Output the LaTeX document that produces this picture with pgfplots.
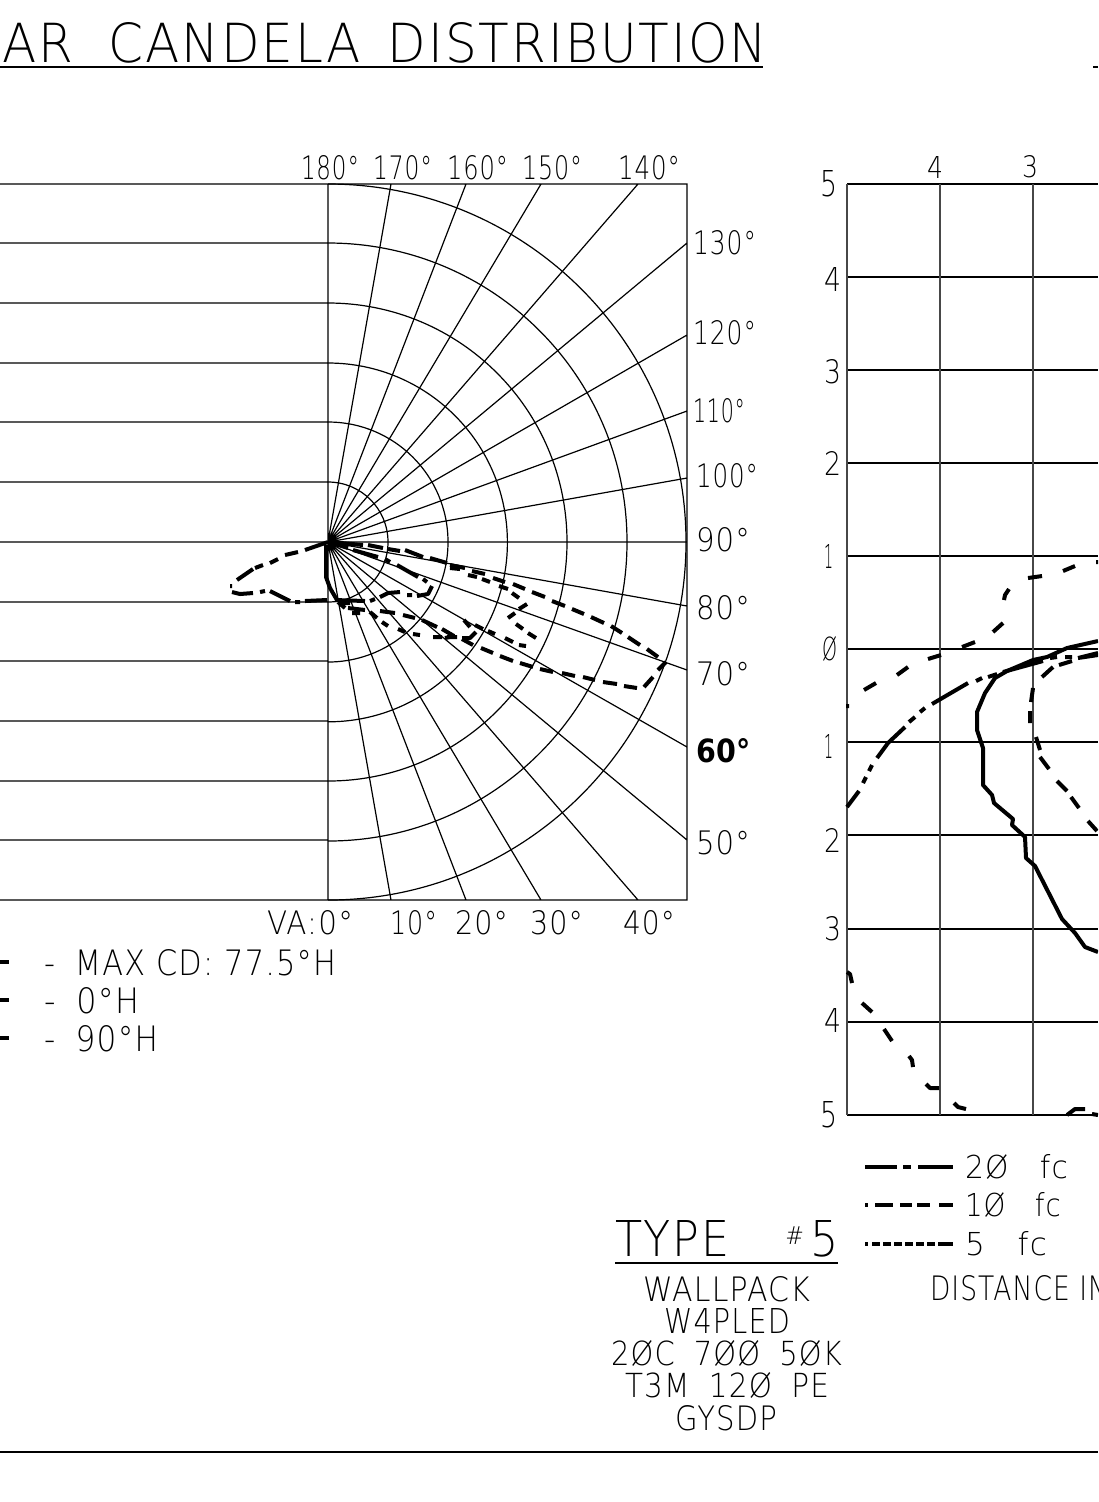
\documentclass[border=0pt]{standalone}
\usepackage{graphicx}
\usepackage{fontspec}
\setmainfont{DejaVu Sans ExtraLight}[LetterSpace=4]
\newfontfamily\boldcad{DejaVu Sans}[BoldFont={DejaVu Sans Bold}]
\usepackage{pgfplots}
\pgfplotsset{compat=1.18}
% text helper: left x, centre y, width, height (reference pixels)
\newcommand{\T}[5]{\node[anchor=west,inner sep=0pt,outer sep=0pt] at (axis cs:#1,#2) {\resizebox{\dimexpr #3pt/2\relax}{\dimexpr #4pt/2\relax}{#5}};}
\pgfplotsset{
  grid line/.style={black,line width=0.6pt,forget plot},
  vgrid line/.style={black!72,line width=0.85pt,forget plot},
  curve/.style={black,line width=2pt,line cap=butt,line join=round,forget plot},
}
\begin{document}
\begin{tikzpicture}
\useasboundingbox (0,0) rectangle (549pt,-751pt);
\clip (0,0) rectangle (549pt,-751pt);
\begin{axis}[at={(0,0)},anchor=north west,x=0.5pt,y=0.5pt,y dir=reverse,
  xmin=0,xmax=1098,ymin=0,ymax=1502,hide axis,clip=false,unbounded coords=jump]

% ---------- frame rules
\addplot[grid line] coordinates {(0,67)(763,67) (nan,nan) (1093,67)(1098,67) (nan,nan) (0,1452)(1098,1452) (nan,nan) (615,1263)(838,1263)};

% ---------- polar grid: horizontals, box and rays
\addplot[grid line] coordinates {
(0,184)(687,184)(687,900)(0,900) (nan,nan)
(0,243)(328,243) (nan,nan) (0,303)(328,303) (nan,nan) (0,363)(328,363) (nan,nan)
(0,422)(328,422) (nan,nan) (0,482)(328,482) (nan,nan) (0,542)(687,542) (nan,nan)
(0,602)(328,602) (nan,nan) (0,661)(328,661) (nan,nan) (0,721)(328,721) (nan,nan)
(0,781)(328,781) (nan,nan) (0,840)(328,840) (nan,nan) (328,184)(328,900) (nan,nan)
(328,542)(391,184) (nan,nan) (328,542)(466,184) (nan,nan) (328,542)(541,184) (nan,nan) (328,542)(638,184) (nan,nan)
(328,542)(687,243) (nan,nan) (328,542)(687,335) (nan,nan) (328,542)(687,411) (nan,nan) (328,542)(687,478) (nan,nan)
(328,542)(687,606) (nan,nan) (328,542)(687,670) (nan,nan) (328,542)(687,747) (nan,nan) (328,542)(687,840) (nan,nan)
(328,542)(391,900) (nan,nan) (328,542)(466,900) (nan,nan) (328,542)(541,900) (nan,nan) (328,542)(638,900)};
\draw[black,line width=0.6pt] (axis cs:328,482) arc[start angle=90,end angle=-90,radius=30pt];
\draw[black,line width=0.6pt] (axis cs:328,422) arc[start angle=90,end angle=-90,radius=60pt];
\draw[black,line width=0.6pt] (axis cs:328,363) arc[start angle=90,end angle=-90,radius=89.7pt];
\draw[black,line width=0.6pt] (axis cs:328,303) arc[start angle=90,end angle=-90,radius=119.5pt];
\draw[black,line width=0.6pt] (axis cs:328,243) arc[start angle=90,end angle=-90,radius=149.5pt];
\draw[black,line width=0.6pt] (axis cs:328,184) arc[start angle=90,end angle=-90,radius=179pt];

% ---------- polar curves: MAX CD
\addplot[curve] coordinates {
(305,550)(328,542) (nan,nan) (285,555)(298,552) (nan,nan) (270,563)(278,559) (nan,nan) (255,568)(263,565) (nan,nan)
(237,580)(253,569) (nan,nan) (230,586)(232,586) (nan,nan) (232,592)(240,594)(253,593) (nan,nan) (260,592)(265,591) (nan,nan)
(270,591)(280,596)(290,601) (nan,nan) (295,602)(300,602) (nan,nan) (305,601)(327,600) (nan,nan)
(326,545)(326,577)(330,588)(337,600) (nan,nan) (335,600)(365,601) (nan,nan) (370,601)(375,599) (nan,nan)
(380,597)(388,593)(400,592) (nan,nan) (407,595)(412,595) (nan,nan) (417,596)(428,594)(432,586) (nan,nan)
(427,582)(423,579) (nan,nan) (418,577)(397,565) (nan,nan) (390,562)(385,559) (nan,nan) (378,557)(353,550) (nan,nan) (348,548)(332,543)};
% ---------- polar curves: 0 H
\addplot[curve] coordinates {
(330,542)(363,545) (nan,nan) (368,545)(383,548) (nan,nan) (388,549)(400,551) (nan,nan) (405,550)(423,557) (nan,nan) (430,558)(447,563) (nan,nan)
(450,565)(465,568) (nan,nan) (472,571)(485,574) (nan,nan) (493,578)(505,582) (nan,nan) (513,584)(525,589) (nan,nan)
(532,592)(545,597) (nan,nan) (552,601)(565,606) (nan,nan) (572,609)(584,614) (nan,nan) (591,617)(604,623) (nan,nan)
(611,626)(622,633) (nan,nan) (628,637)(640,645) (nan,nan) (647,649)(658,657) (nan,nan) (666,662)(658,670) (nan,nan)
(653,677)(644,687) (nan,nan) (637,688)(624,686) (nan,nan) (617,684)(603,682) (nan,nan) (595,680)(583,677) (nan,nan)
(575,676)(562,673) (nan,nan) (553,672)(540,669) (nan,nan) (533,667)(520,663) (nan,nan) (513,661)(500,656) (nan,nan)
(493,653)(481,648) (nan,nan) (473,645)(462,639) (nan,nan) (454,636)(442,629) (nan,nan) (445,638)(454,636) (nan,nan)
(422,620)(437,627) (nan,nan) (403,615)(415,618) (nan,nan) (380,611)(395,613) (nan,nan) (348,608)(365,610) (nan,nan)
(338,602)(345,608) (nan,nan) (340,603)(350,603)};
% ---------- polar curves: 90 H
\addplot[curve] coordinates {
(450,568)(460,569) (nan,nan) (468,575)(477,577) (nan,nan) (482,579)(490,582) (nan,nan) (499,586)(508,589) (nan,nan)
(512,593)(519,598) (nan,nan) (527,604)(519,609) (nan,nan) (515,613)(508,618) (nan,nan) (516,624)(523,629) (nan,nan)
(528,633)(536,638) (nan,nan) (526,646)(519,645) (nan,nan) (513,642)(505,638) (nan,nan) (495,634)(488,631) (nan,nan)
(483,629)(475,625) (nan,nan) (470,627)(464,620) (nan,nan) (476,632)(470,638)(462,638) (nan,nan)
(352,613)(360,613) (nan,nan) (370,612)(377,618) (nan,nan) (382,622)(388,626) (nan,nan) (398,629)(405,632) (nan,nan)
(413,634)(420,635) (nan,nan) (433,637)(442,637) (nan,nan) (447,637)(457,637)};
% polar legend stubs
\addplot[curve,line width=2.4pt] coordinates {(0,962)(9,962) (nan,nan) (0,1000)(9,1000) (nan,nan) (0,1038)(9,1038)};

% ---------- distance grid
\addplot[grid line,line width=0.7pt] coordinates {
(847,184)(1098,184) (nan,nan) (847,277)(1098,277) (nan,nan) (847,370)(1098,370) (nan,nan) (847,463)(1098,463) (nan,nan)
(847,556)(1098,556) (nan,nan) (847,649)(1098,649) (nan,nan) (847,742)(1098,742) (nan,nan) (847,835)(1098,835) (nan,nan)
(847,929)(1098,929) (nan,nan) (847,1022)(1098,1022) (nan,nan) (847,1115)(1098,1115)};
\addplot[vgrid line] coordinates {(847,184)(847,1115) (nan,nan) (940,184)(940,1115) (nan,nan) (1033,184)(1033,1115)};

% ---------- 20 fc
\addplot[curve] coordinates {
(1098,641)(1067,648)(1047,657)(1033,660)(1007,671)(995,678)(985,693)(977,712)(977,730)(983,748)(983,785)(992,795)(994,803)
(1013,819)(1012,825)(1025,837)(1026,858)(1035,866)(1062,919)(1075,933)(1085,947)(1098,952)};
% ---------- 10 fc
\addplot[curve] coordinates {
(847,807)(859,791) (nan,nan) (863,783)(866,777) (nan,nan) (869,771)(872,765) (nan,nan) (877,758)(888,743)(905,727) (nan,nan)
(909,722)(915,717) (nan,nan) (920,712)(925,708) (nan,nan) (932,704)(968,683) (nan,nan) (976,681)(982,678) (nan,nan)
(988,677)(997,674) (nan,nan) (1003,672)(1043,661) (nan,nan) (1050,658)(1057,657) (nan,nan) (1065,657)(1072,657) (nan,nan)
(1078,658)(1098,655) (nan,nan) (1078,658)(1098,653)};
% ---------- 5 fc, inner branch
\addplot[curve] coordinates {
(1059,665)(1072,661) (nan,nan) (1042,677)(1053,667) (nan,nan) (1033,688)(1031,702) (nan,nan) (1030,711)(1030,723) (nan,nan)
(1036,737)(1040,750) (nan,nan) (1040,757)(1049,769) (nan,nan) (1057,781)(1067,791) (nan,nan) (1071,797)(1079,808) (nan,nan)
(1088,821)(1097,831)};
% ---------- 5 fc, outer branch
\addplot[curve] coordinates {
(1096,562)(1098,562) (nan,nan) (1063,571)(1075,566) (nan,nan) (1028,578)(1042,576) (nan,nan) (1004,600)(1005,595)(1009,589) (nan,nan)
(993,632)(1003,623) (nan,nan) (962,647)(975,642) (nan,nan) (928,659)(941,655) (nan,nan) (897,675)(908,667) (nan,nan)
(864,690)(876,683) (nan,nan) (846,706)(849,706) (nan,nan)
(847,972)(850,974)(852,983) (nan,nan) (862,1003)(872,1012) (nan,nan) (884,1029)(892,1041) (nan,nan) (909,1056)(912,1060)(913,1067) (nan,nan)
(926,1084)(930,1088)(939,1088) (nan,nan) (954,1103)(958,1107)(966,1109) (nan,nan) (1067,1115)(1075,1109)(1085,1109) (nan,nan) (1092,1114)(1098,1115)};

% ---------- distance legend keys
\addplot[curve,line width=2.2pt] coordinates {(865,1167)(897,1167) (nan,nan) (903,1167)(911,1167) (nan,nan) (918,1167)(953,1167)};
\addplot[curve,line width=2.2pt] coordinates {(865,1205)(868,1205) (nan,nan) (875,1205)(893,1205) (nan,nan) (900,1205)(912,1205) (nan,nan) (917,1205)(930,1205) (nan,nan) (939,1205)(953,1205)};
\addplot[curve,line width=1.8pt] coordinates {(865,1244)(868,1244) (nan,nan) (872,1244)(880,1244) (nan,nan) (883,1244)(891,1244) (nan,nan) (894,1244)(902,1244) (nan,nan) (905,1244)(913,1244) (nan,nan) (916,1244)(924,1244) (nan,nan) (927,1244)(935,1244) (nan,nan) (938,1244)(953,1244)};

% ---------- texts
\T{2}{43}{765}{40}{AR\hspace{0.35em} CANDELA\hspace{0.18em} DISTRIBUTION}
\T{301}{168}{58}{24}{180°}
\T{373}{168}{59}{24}{170°}
\T{447}{168}{61}{24}{160°}
\T{522}{168}{60}{24}{150°}
\T{618}{168}{62}{24}{140°}
\T{693}{243}{63}{24}{130°}
\T{693}{333}{63}{24}{120°}
\T{693}{411}{52}{24}{110°}
\T{696}{476}{62}{24}{100°}
\T{696}{540}{54}{24}{90°}
\T{696}{608}{54}{24}{80°}
\T{696}{674}{54}{24}{70°}
\node[anchor=west,inner sep=0pt] at (axis cs:696,751) {\resizebox{27pt}{12pt}{\boldcad\bfseries 60°}};
\T{696}{843}{54}{24}{50°}
\T{267}{923}{86}{24}{VA:0°}
\T{390}{923}{47}{24}{10°}
\T{455}{923}{53}{24}{20°}
\T{530}{923}{53}{24}{30°}
\T{623}{923}{52}{24}{40°}
\T{44}{963}{292}{26}{-\hspace{0.3em} MAX CD: 77.5°H}
\T{44}{1001}{95}{26}{-\hspace{0.3em} 0°H}
\T{44}{1039}{114}{26}{-\hspace{0.3em} 90°H}
\T{927}{167}{16}{22}{4}
\T{1022}{167}{16}{22}{3}
\T{820}{184}{17}{26}{5}
\T{824}{279}{17}{24}{4}
\T{824}{372}{17}{24}{3}
\T{824}{463}{17}{24}{2}
\T{824}{556}{9}{24}{1}
\T{822}{649}{15}{24}{Ø}
\T{824}{746}{9}{24}{1}
\T{824}{840}{17}{24}{2}
\T{824}{929}{17}{24}{3}
\T{824}{1020}{17}{24}{4}
\T{820}{1115}{17}{26}{5}
\T{615}{1239}{224}{36}{TYPE\hspace{0.9em} \raisebox{0.25em}{\scalebox{0.5}{\#}}\hspace{0.15em}5}
\T{643}{1289}{167}{25}{WALLPACK}
\T{664}{1321}{126}{25}{W4PLED}
\T{611}{1353}{231}{25}{2ØC\hspace{0.3em} 7ØØ\hspace{0.3em} 5ØK}
\T{625}{1385}{204}{25}{T3M\hspace{0.3em} 12Ø\hspace{0.3em} PE}
\T{675}{1418}{102}{25}{GYSDP}
\T{965}{1167}{103}{24}{2Ø\hspace{0.7em} fc}
\T{965}{1205}{96}{24}{1Ø\hspace{0.7em} fc}
\T{965}{1244}{82}{24}{5\hspace{0.7em} fc}
\T{930}{1288}{178}{25}{DISTANCE IN}
\end{axis}
\end{tikzpicture}
\end{document}
